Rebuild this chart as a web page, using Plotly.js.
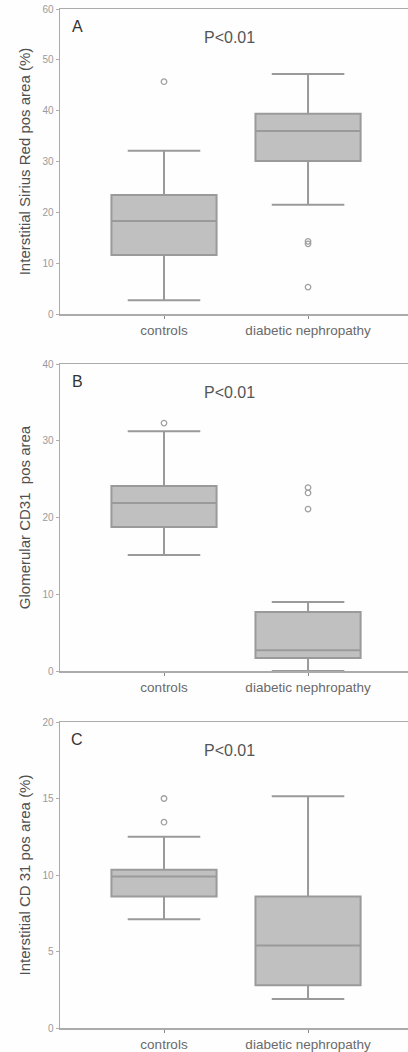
<!DOCTYPE html>
<html>
<head>
<meta charset="utf-8">
<script src="https://cdn.plot.ly/plotly-3.0.1.min.js"></script>
<style>html,body{margin:0;padding:0;background:#fff;}#chart{width:408px;height:1052px;}</style>
</head>
<body>
<div id="chart"></div>
<script>
const categories = ['controls', 'diabetic nephropathy'];

// Panel A: Interstitial Sirius Red pos area (%)
const siriusLower = [2.7, 21.5];
const siriusQ1 = [11.6, 30.1];
const siriusMedian = [18.3, 36.0];
const siriusQ3 = [23.4, 39.4];
const siriusUpper = [32.1, 47.2];
const siriusOutX = ['controls', 'diabetic nephropathy', 'diabetic nephropathy', 'diabetic nephropathy'];
const siriusOutY = [45.7, 14.3, 13.8, 5.3];

// Panel B: Glomerular CD31 pos area
const glomLower = [15.1, 0.0];
const glomQ1 = [18.75, 1.7];
const glomMedian = [21.9, 2.7];
const glomQ3 = [24.1, 7.7];
const glomUpper = [31.25, 9.0];
const glomOutX = ['controls', 'diabetic nephropathy', 'diabetic nephropathy', 'diabetic nephropathy'];
const glomOutY = [32.3, 23.9, 23.2, 21.1];

// Panel C: Interstitial CD 31 pos area (%)
const intLower = [7.1, 1.9];
const intQ1 = [8.6, 2.8];
const intMedian = [9.9, 5.4];
const intQ3 = [10.35, 8.6];
const intUpper = [12.5, 15.15];
const intOutX = ['controls', 'controls'];
const intOutY = [15.0, 13.45];

const panelLetters = ['A', 'B', 'C'];
const pText = 'P<0.01';
const yTitles = ['Interstitial Sirius Red pos area (%)', 'Glomerular CD31  pos area', 'Interstitial CD 31 pos area (%)'];

const FONT = 'Liberation Sans, Arial, sans-serif';
const boxFill = '#c0c0c0';
const boxLine = '#9a9a9a';
const axisCol = '#ababab';

function boxTrace(lower, q1, med, q3, upper, xa, ya) {
  return {
    type: 'box', x: categories, q1: q1, median: med, q3: q3,
    lowerfence: lower, upperfence: upper,
    xaxis: xa, yaxis: ya,
    fillcolor: boxFill, line: {color: boxLine, width: 2},
    width: 0.73, whiskerwidth: 0.69, boxpoints: false,
    showlegend: false, hoverinfo: 'skip'
  };
}
function outTrace(xs, ys, xa, ya) {
  return {
    type: 'scatter', mode: 'markers', x: xs, y: ys, xaxis: xa, yaxis: ya,
    marker: {symbol: 'circle-open', size: 5.5, color: '#a0a0a0', line: {width: 1.3, color: '#a0a0a0'}},
    showlegend: false, hoverinfo: 'skip'
  };
}

const data = [
  boxTrace(siriusLower, siriusQ1, siriusMedian, siriusQ3, siriusUpper, 'x', 'y'),
  outTrace(siriusOutX, siriusOutY, 'x', 'y'),
  boxTrace(glomLower, glomQ1, glomMedian, glomQ3, glomUpper, 'x2', 'y2'),
  outTrace(glomOutX, glomOutY, 'x2', 'y2'),
  boxTrace(intLower, intQ1, intMedian, intQ3, intUpper, 'x3', 'y3'),
  outTrace(intOutX, intOutY, 'x3', 'y3')
];

const H = 1052;
const domains = [[1 - 314 / H, 1 - 9 / H], [1 - 671 / H, 1 - 364 / H], [1 - 1028 / H, 1 - 722 / H]];
const yRanges = [[0, 60], [0, 40], [0, 20]];
const yDtick = [10, 10, 5];

function xAxis(anchor) {
  return {
    type: 'category', categoryorder: 'array', categoryarray: categories,
    range: [-0.722, 1.694], anchor: anchor,
    showline: true, linecolor: axisCol, linewidth: 1.5, mirror: true,
    ticks: 'outside', ticklen: 3, tickcolor: '#888', tickwidth: 1,
    showgrid: false, zeroline: false,
    tickfont: {family: FONT, size: 13.5, color: '#6a6a6a'}
  };
}
function yAxis(i, anchor) {
  return {
    domain: domains[i], range: yRanges[i], dtick: yDtick[i], anchor: anchor,
    showline: true, linecolor: axisCol, linewidth: 1.5,
    ticks: 'outside', ticklen: 3, tickcolor: '#b0b0b0',
    showgrid: false, zeroline: false,
    tickfont: {family: FONT, size: 10, color: '#9a9a9a'},
    title: {text: yTitles[i], font: {family: FONT, size: 15, color: '#505050'}, standoff: 8}
  };
}

const annotations = [];
const refs = [['x', 'y'], ['x2', 'y2'], ['x3', 'y3']];
for (let i = 0; i < 3; i++) {
  annotations.push({
    xref: refs[i][0] + ' domain', yref: refs[i][1] + ' domain',
    x: 0.05, y: 0.942, text: panelLetters[i], showarrow: false,
    xanchor: 'center', yanchor: 'middle',
    font: {family: FONT, size: 16, color: '#333'}
  });
  annotations.push({
    xref: refs[i][0] + ' domain', yref: refs[i][1] + ' domain',
    x: 0.488, y: 0.908, text: pText, showarrow: false,
    xanchor: 'center', yanchor: 'middle',
    font: {family: FONT, size: 16, color: '#555'}
  });
}

const layout = {
  width: 408, height: 1052,
  margin: {l: 60, r: 0, t: 0, b: 0},
  paper_bgcolor: '#fefefe', plot_bgcolor: '#fefefe',
  showlegend: false,
  xaxis: xAxis('y'), xaxis2: xAxis('y2'), xaxis3: xAxis('y3'),
  yaxis: yAxis(0, 'x'), yaxis2: yAxis(1, 'x2'), yaxis3: yAxis(2, 'x3'),
  annotations: annotations
};

Plotly.newPlot('chart', data, layout, {staticPlot: true, displayModeBar: false});
</script>
</body>
</html>
